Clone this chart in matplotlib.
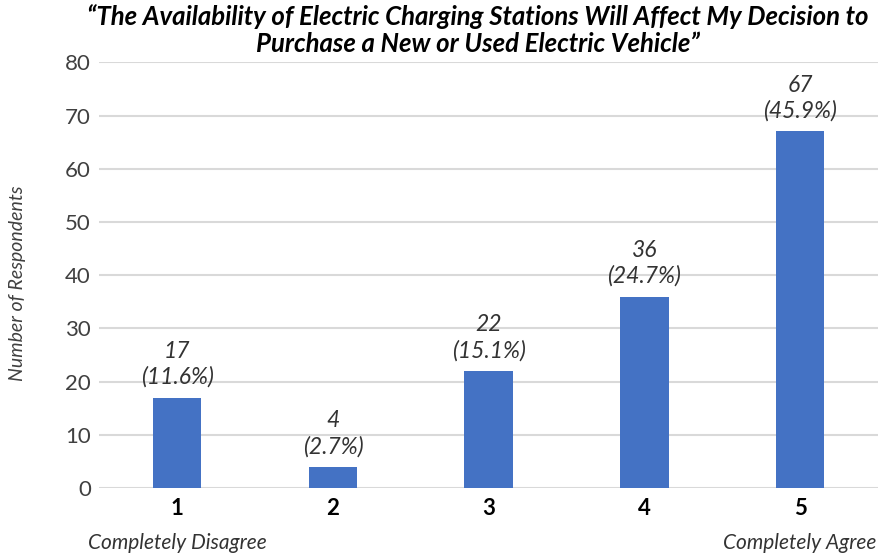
import matplotlib
matplotlib.use("Agg")
import matplotlib.pyplot as plt

categories = ["1", "2", "3", "4", "5"]
counts = [17, 4, 22, 36, 67]
percents = ["11.6%", "2.7%", "15.1%", "24.7%", "45.9%"]
title = "\u201cThe Availability of Electric Charging Stations Will Affect My Decision to\nPurchase a New or Used Electric Vehicle\u201d"

plt.rcParams['font.family'] = ['Lato', 'DejaVu Sans']

fig = plt.figure(figsize=(8.86, 5.56), dpi=100)
ax = fig.add_axes([0.112, 0.122, 0.879, 0.766])

x = list(range(len(categories)))
bars = ax.bar(x, counts, width=0.31, color="#4472C4", zorder=3)

for xi, c, p in zip(x, counts, percents):
    ax.annotate(f"{c}\n({p})", (xi, c), xytext=(0, 7), textcoords="offset points",
                ha="center", va="bottom", fontsize=16.5, fontstyle="italic",
                color="#333333", linespacing=1.25)

ax.set_xlim(-0.5, 4.5)
ax.set_ylim(0, 80)
ax.set_yticks(range(0, 81, 10))
ax.set_xticks(x)
ax.set_xticklabels(categories, fontsize=16, fontweight="bold", color="black")
ax.tick_params(axis="y", labelsize=16, colors="#404040", length=0, pad=6)
ax.tick_params(axis="x", length=0, pad=7)
ax.yaxis.grid(True, color="#d9d9d9", linewidth=1.5, zorder=0)
for s in ax.spines.values():
    s.set_visible(False)

fig.text(18/886, 1 - 283/556, "Number of Respondents", rotation=90, ha="center", va="center",
         fontsize=14, fontstyle="italic", color="#404040")

fig.text(478/886, 1 - 4/556, title, ha="center", va="top", fontsize=18.5, fontweight="bold",
         fontstyle="italic", color="black", linespacing=1.15)

fig.text(177/886, 1 - 543/556, "Completely Disagree", ha="center", va="center",
         fontsize=15, fontstyle="italic", color="#333333")
fig.text(800/886, 1 - 543/556, "Completely Agree", ha="center", va="center",
         fontsize=15, fontstyle="italic", color="#333333")

fig.savefig("out.png", dpi=100)
